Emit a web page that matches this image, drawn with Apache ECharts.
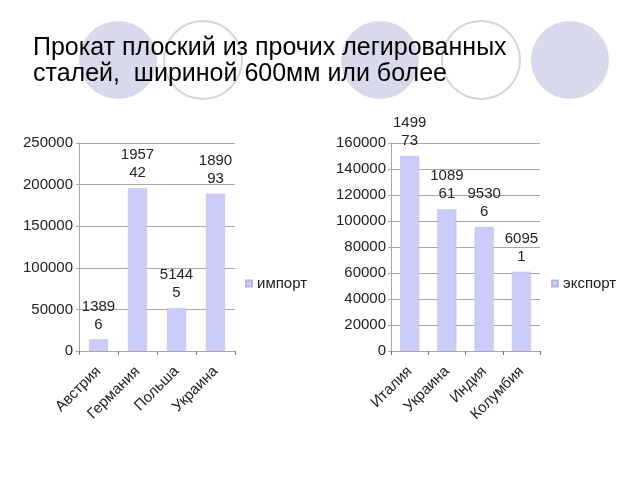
<!DOCTYPE html>
<html>
<head>
<meta charset="utf-8">
<script src="https://cdn.jsdelivr.net/npm/echarts@6/dist/echarts.min.js"></script>
<style>
html,body{margin:0;padding:0;background:#fff;}
#chart{width:640px;height:480px;}
</style>
</head>
<body>
<div id="chart"></div>
<script>
var titleText = 'Прокат плоский из прочих легированных\nсталей,  шириной 600мм или более';
var importCategories = ['Австрия', 'Германия', 'Польша', 'Украина'];
var importValues = [13896, 195742, 51445, 189093];
var importTicks = [0, 50000, 100000, 150000, 200000, 250000];
var exportCategories = ['Италия', 'Украина', 'Индия', 'Колумбия'];
var exportValues = [149973, 108961, 95306, 60951];
var exportTicks = [0, 20000, 40000, 60000, 80000, 100000, 120000, 140000, 160000];
var seriesNames = ['импорт', 'экспорт'];

var FONT = '"Liberation Sans", Arial, sans-serif';
var BAR = '#ccccfa';
var GRID = '#a8a8a8';
var TXT = '#222';

function wrapLabel(p) {
  var s = String(p.value);
  return s.slice(0, 4) + '\n' + s.slice(4);
}

function xAxisFor(idx, cats) {
  return {
    type: 'category', gridIndex: idx, data: cats,
    axisLine: {show: true, lineStyle: {color: GRID, width: 1}},
    axisTick: {show: true, alignWithLabel: false, length: 4, lineStyle: {color: '#777'}},
    axisLabel: {rotate: 45, margin: 18, color: TXT, fontSize: 15, fontFamily: FONT, interval: 0}
  };
}
function yAxisFor(idx, ticks, margin) {
  return {
    type: 'value', gridIndex: idx, min: ticks[0], max: ticks[ticks.length - 1],
    interval: ticks[1] - ticks[0],
    axisLine: {show: true, lineStyle: {color: GRID, width: 1}},
    axisTick: {show: true, length: 3, lineStyle: {color: GRID}},
    splitLine: {show: true, lineStyle: {color: GRID, width: 1}},
    axisLabel: {color: TXT, fontSize: 15, fontFamily: FONT, margin: margin,
                formatter: function (v) { return String(v); }}
  };
}
function barSeries(idx, name, vals) {
  return {
    type: 'bar', name: name, xAxisIndex: idx, yAxisIndex: idx, data: vals,
    barWidth: 19,
    itemStyle: {color: BAR, borderColor: '#b4b4e6', borderWidth: 0.5},
    label: {show: true, position: 'top', distance: 6, formatter: wrapLabel,
            color: TXT, fontSize: 15, fontFamily: FONT, lineHeight: 18},
    emphasis: {disabled: true}
  };
}

var circles = [
  {cx: 118, cy: 60, r: 39, filled: true},
  {cx: 203, cy: 60, r: 39, filled: false},
  {cx: 380, cy: 60, r: 39, filled: true},
  {cx: 481, cy: 60, r: 39, filled: false},
  {cx: 570, cy: 60, r: 39, filled: true}
];

var chart = echarts.init(document.getElementById('chart'), null, {renderer: 'canvas'});
chart.setOption({
  animation: false,
  backgroundColor: '#fff',
  graphic: circles.map(function (c) {
    return {
      type: 'circle', z: -10, silent: true,
      shape: {cx: c.cx, cy: c.cy, r: c.r},
      style: c.filled ? {fill: '#d9d9ec'} : {fill: '#fff', stroke: '#d6d6d6', lineWidth: 2}
    };
  }),
  title: {
    text: titleText, left: 33, top: 35, padding: 0,
    textStyle: {color: '#000', fontSize: 25, fontWeight: 'normal', fontFamily: FONT, lineHeight: 26}
  },
  legend: [
    {data: [seriesNames[0]], left: 245, top: 276, padding: 0, icon: 'rect', itemWidth: 6, itemHeight: 6,
     textStyle: {color: TXT, fontSize: 15, fontFamily: FONT}, selectedMode: false},
    {data: [seriesNames[1]], left: 551, top: 276, padding: 0, icon: 'rect', itemWidth: 6, itemHeight: 6,
     textStyle: {color: TXT, fontSize: 15, fontFamily: FONT}, selectedMode: false}
  ],
  grid: [
    {left: 79, top: 143, width: 156, height: 208, containLabel: false},
    {left: 391, top: 143, width: 149, height: 208, containLabel: false}
  ],
  xAxis: [xAxisFor(0, importCategories), xAxisFor(1, exportCategories)],
  yAxis: [yAxisFor(0, importTicks, 6), yAxisFor(1, exportTicks, 5)],
  series: [barSeries(0, seriesNames[0], importValues), barSeries(1, seriesNames[1], exportValues)]
});
</script>
</body>
</html>
